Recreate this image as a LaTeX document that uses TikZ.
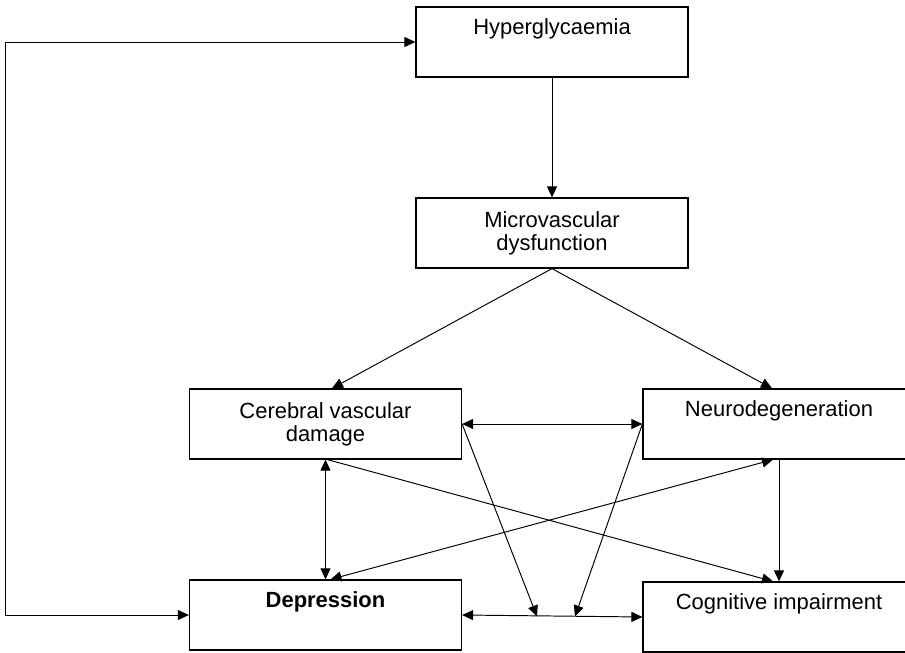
\documentclass[tikz,border=0pt]{standalone}
\usepackage{fontspec}
\setmainfont{Liberation Sans}
\usetikzlibrary{arrows.meta}
\tikzstyle{box} = [rectangle,draw,line width=.7pt,minimum width=5.44cm,minimum height=1.4cm,text centered,align=center,inner sep=0pt,font=\fontsize{12.5}{13.1}\selectfont]
\tikzstyle{arr} = [-{Triangle[length=.22cm,width=.2cm]},line width=.55pt]
\tikzstyle{biarr} = [{Triangle[length=.22cm,width=.2cm]}-{Triangle[length=.22cm,width=.2cm]},line width=.55pt]

\begin{document}
\begin{tikzpicture}[node distance=3.82cm]
	\useasboundingbox (0,0) rectangle (18.1,-13.06);

	\node[box] (hyper) at (11.04,-0.84) {Hyperglycaemia\\\strut};
	\node[box,below of=hyper] (micro) {Microvascular\\dysfunction};
	\node[box,below of=micro,xshift=-4.53cm] (cereb) {Cerebral vascular\\damage};
	\node[box,right of=cereb,node distance=9.07cm] (neuro) {Neurodegeneration\\\strut};
	\node[box,below of=cereb] (depr) {\textbf{Depression}\\\strut};
	\node[box,right of=depr,node distance=9.07cm,yshift=-.04cm] (cogn) {Cognitive impairment\\\strut};

	% where the two arrows meet the bottom line
	\coordinate (j1) at (10.74,-12.33);
	\coordinate (j2) at (11.5,-12.33);

	\draw[arr] (hyper) -- (micro);
	\draw[arr] (micro.south) -- ([xshift=.13cm]cereb.north);
	\draw[arr] (micro.south) -- ([xshift=-.14cm]neuro.north);
	\draw[biarr] (cereb.east) -- (neuro.west);
	\draw[arr] (cereb.east) -- (j1);
	\draw[arr] (neuro.west) -- (j2);
	\draw[biarr] (cereb.south) -- (depr.north);
	\draw[arr] ([xshift=.04cm]cereb.south) -- ([xshift=-.12cm]cogn.north);
	\draw[biarr] ([xshift=-.12cm]neuro.south) -- ([xshift=.1cm]depr.north);
	\draw[arr] (neuro.south) -- (neuro.south |- cogn.north);
	\draw[biarr] (depr.east) -- (cogn.west);
	\draw[biarr] (depr.west) -- ++(-3.66,0) |- (hyper.west);

\end{tikzpicture}
\end{document}
